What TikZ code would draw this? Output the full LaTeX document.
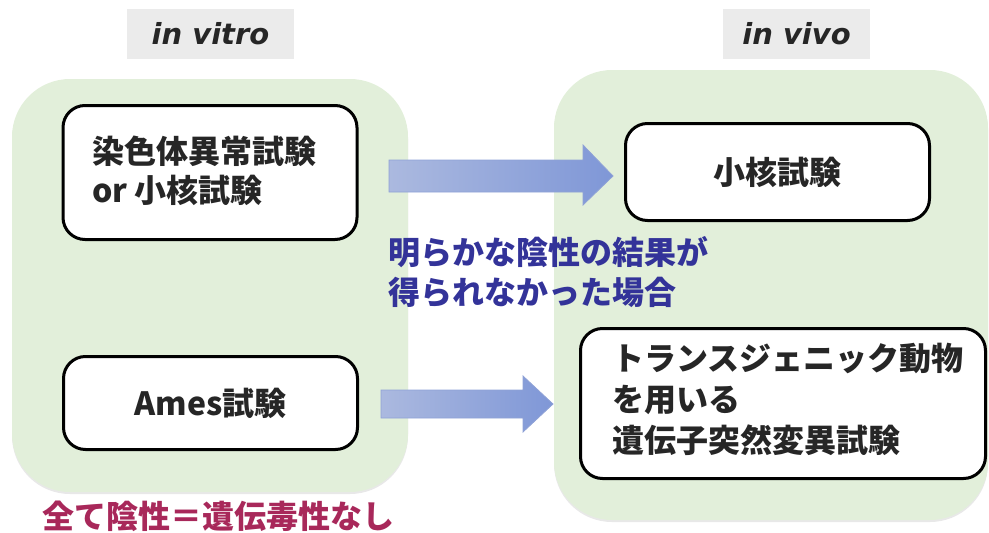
\documentclass[tikz,border=0pt]{standalone}
\usepackage{fontspec}
\newfontfamily\jp{Noto Sans CJK JP}
\newfontfamily\lat{DejaVu Sans}
\usetikzlibrary{shadows,calc}
\definecolor{panelgreen}{HTML}{E2EFDA}
\definecolor{hdrgray}{HTML}{EBEBEB}
\definecolor{txtdark}{HTML}{262626}
\definecolor{navy}{HTML}{333399}
\definecolor{crimson}{HTML}{A8285A}
\definecolor{arrowL}{HTML}{ABB9DF}
\definecolor{arrowR}{HTML}{7F97D7}
\definecolor{arrowE}{HTML}{8FA2D6}
\begin{document}
\begin{tikzpicture}[x=1pt,y=-1pt,
  panel/.style={fill=panelgreen, rounded corners=58pt, draw=none, inner sep=0,
    drop shadow={opacity=0.18, shadow xshift=0pt, shadow yshift=-2pt}},
  header/.style={fill=hdrgray, inner sep=0, text=txtdark,
    font=\lat\bfseries\itshape\fontsize{29}{34}\selectfont},
  testbox/.style={draw=black, line width=3pt, fill=white, rounded corners=22pt, inner sep=0},
  jtext/.style={font=\jp\bfseries\fontsize{32}{39}\selectfont, text=txtdark, inner sep=0, align=left},
  blockarrow/.style={left color=arrowL, right color=arrowR, draw=arrowE, line width=0.8pt}]

\useasboundingbox (0,0) rectangle (989,533);

% headers
\node[header, minimum width=167pt, minimum height=50pt] (hvitro) at (210.5,34) {in vitro};
\node[header, minimum width=147pt, minimum height=50pt] (hvivo) at (796.5,34) {in vivo};

% panels
\node[panel, minimum width=396pt, minimum height=413pt] (pvitro) at (210,285.5) {};
\node[panel, minimum width=434pt, minimum height=450pt] (pvivo) at (771,295) {};

% test boxes
\node[testbox, minimum width=294pt, minimum height=134pt] (chrom) at (210,172.5) {};
\node[jtext, anchor=west] (chromt) at (92,171) {染色体異常試験\\or 小核試験};

\node[testbox, minimum width=294pt, minimum height=93pt] (ames) at (210.5,403) {};
\node[jtext] (amest) at (ames.center) {Ames試験};

\node[testbox, minimum width=304pt, minimum height=97pt] (mn) at (777.5,172) {};
\node[jtext] (mnt) at (mn.center) {小核試験};

\node[testbox, minimum width=405pt, minimum height=150pt] (tg) at (783,403.5) {};
\node[jtext, anchor=west, font=\jp\bfseries\fontsize{32}{41}\selectfont] (tgt) at (612,399)
  {トランスジェニック動物\\を用いる\\遺伝子突然変異試験};

% block arrows
\coordinate (a1s) at (389,176);
\coordinate (a1e) at (613,176);
\path[blockarrow] ($(a1s)+(0,-16)$) -- ($(a1e)+(-30,-16)$) -- ($(a1e)+(-30,-31)$) -- (a1e)
  -- ($(a1e)+(-30,29)$) -- ($(a1e)+(-30,16)$) -- ($(a1s)+(0,16)$) -- cycle;
\coordinate (a2s) at (381,404);
\coordinate (a2e) at (553,404);
\path[blockarrow] ($(a2s)+(0,-14)$) -- ($(a2e)+(-30,-14)$) -- ($(a2e)+(-30,-28)$) -- (a2e)
  -- ($(a2e)+(-30,28)$) -- ($(a2e)+(-30,14)$) -- ($(a2s)+(0,14)$) -- cycle;

% notes
\node[jtext, text=navy, anchor=west, font=\jp\bfseries\fontsize{32}{40}\selectfont] (cond) at (388,272)
  {明らかな陰性の結果が\\得られなかった場合};
\node[jtext, text=crimson, anchor=west] (neg) at (42,516) {全て陰性＝遺伝毒性なし};
\end{tikzpicture}
\end{document}
